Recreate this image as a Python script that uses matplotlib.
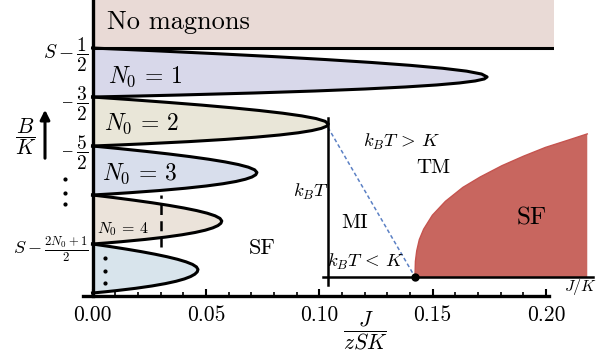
import numpy as np
import matplotlib.pyplot as plt
from matplotlib.patches import Rectangle, FancyArrowPatch

plt.rcParams['font.family'] = 'serif'
plt.rcParams['font.serif'] = ['cmr10']
plt.rcParams['mathtext.fontset'] = 'cm'
plt.rcParams['axes.formatter.use_mathtext'] = True

# Mott lobes, from the top band (N0 = 1) down
band_bottoms = [4, 3, 2, 1, 0]
lobe_tips = [0.174, 0.104, 0.0725, 0.057, 0.0465]      # J/(zSK) at the lobe tip
tip_heights = [0.41, 0.45, 0.46, 0.47, 0.48]           # tip position inside the band
lobe_colors = ['#d8d8ea', '#e9e6d8', '#d8deec', '#ebe3da', '#d8e4ec']
lobe_names = [r'$N_0\,=\,1$', r'$N_0\,=\,2$', r'$N_0\,=\,3$', r'$N_0\,=\,4$', '']

# lobe outline, as a fraction of the tip width
prof_low_u = [0, .05, .1, .2, .3, .4, .5, .6, .7, .8, .9, 1]
prof_low_x = [0, .116, .222, .409, .564, .691, .793, .872, .930, .970, .993, 1]
prof_up_v = [0, .1, .2, .3, .4, .5, .6, .7, .8, .9, .95, 1]
prof_up_x = [1, .986, .948, .887, .806, .707, .592, .463, .320, .166, .084, 0]

no_magnon_band = (5, 6)
x_right = 0.2035

ytick_pos = [5, 4, 3, 1]
ytick_lab = [r'$S-\dfrac{1}{2}$', r'$S-\dfrac{3}{2}$', r'$S-\dfrac{5}{2}$',
             r'$S-\frac{2N_0+1}{2}$']
xtick_pos = [0, 0.05, 0.10, 0.15, 0.20]
xtick_lab = ['0.00', '0.05', '0.10', '0.15', '0.20']

# finite temperature inset
sf_j = [1.0, 1.005, 1.02, 1.05, 1.1, 1.2, 1.35, 1.55, 1.75, 2.0, 2.25, 2.5, 2.75, 2.98]
sf_t = [0, 0.18, 0.30, 0.43, 0.55, 0.71, 0.87, 1.03, 1.15, 1.28, 1.39, 1.49, 1.57, 1.645]
crossover_j = [0, 1.0]
crossover_t = [1.72, 0]

fig = plt.figure(figsize=(6.11, 3.6), dpi=100)
ax = fig.add_axes([83/611, 64/360, 471/611, 296/360])
ax.set_xlim(-0.0042, x_right)
ax.set_ylim(-0.061, 5.98)

ax.fill_between([0, x_right], no_magnon_band[0], no_magnon_band[1], color='#e9dad6', lw=0)
ax.plot([0, x_right], [5, 5], color='k', lw=2.2, solid_capstyle='butt')
ax.text(0.0064, 5.53, 'No magnons', fontsize=19, va='center')

for b, jt, h, c in zip(band_bottoms, lobe_tips, tip_heights, lobe_colors):
    ys = [b + h*u for u in prof_low_u] + [b + h + (1 - h)*v for v in prof_up_v[1:]]
    xs = [jt*p for p in prof_low_x] + [jt*p for p in prof_up_x[1:]]
    ax.fill(xs, ys, facecolor=c, edgecolor='none')
    ax.plot(xs, ys, color='k', lw=2.2)

ax.text(0.0068, 4.286, lobe_names[0], fontsize=17)
ax.text(0.005, 3.327, lobe_names[1], fontsize=17)
ax.text(0.0042, 2.306, lobe_names[2], fontsize=17)
ax.text(0.002, 1.224, lobe_names[3], fontsize=11.5)
ax.text(0.0747, 0.918, 'SF', fontsize=16, ha='center', va='center')

ax.plot([0.0302, 0.0302], [0.94, 2.0], color='k', lw=1.8, dashes=(4, 2.5))
ax.plot([0.0055]*3, [0.714, 0.449, 0.204], 'k.', ms=4)
ax.plot([-0.0121]*3, [2.33, 2.05, 1.82], 'k.', ms=4, clip_on=False)

for s in ['top', 'right']:
    ax.spines[s].set_visible(False)
ax.spines['left'].set_position(('data', 0))
ax.spines['left'].set_linewidth(2.4)
ax.spines['bottom'].set_linewidth(2.4)
ax.spines['bottom'].set_bounds(-0.0042, 0.2015)
ax.set_xticks(xtick_pos)
ax.set_xticklabels(xtick_lab)
ax.set_xticks(np.arange(0, 0.201, 0.01), minor=True)
ax.tick_params(axis='x', which='major', direction='in', length=5, width=1.5, labelsize=15.5, pad=7)
ax.tick_params(axis='x', which='minor', direction='in', length=3, width=1.2)
ax.set_yticks(ytick_pos)
ax.set_yticklabels(ytick_lab)
ax.tick_params(axis='y', length=0, pad=3, labelsize=14)
ax.get_yticklabels()[-1].set_fontsize(13)

fig.text(365/611, 1 - 331/360, r'$\dfrac{J}{zSK}$', fontsize=15.5, ha='center', va='center')

# B/K label with the field arrow
fig.add_artist(Rectangle((8/611, 1 - 166/360), 55/611, 75/360, transform=fig.transFigure,
                         facecolor='white', edgecolor='none', zorder=5))
fig.text(26/611, 1 - 137/360, r'$\dfrac{B}{K}$', fontsize=15.5, ha='center', va='center', zorder=6)
fig.add_artist(FancyArrowPatch((45/611, 1 - 161/360), (45/611, 1 - 107/360),
                               transform=fig.transFigure, arrowstyle='-|>', mutation_scale=14,
                               lw=2.2, color='k', zorder=6))

# inset: temperature vs J/K
ins = fig.add_axes([323/611, 75/360, 270/611, 167/360])
ins.patch.set_visible(False)
ins.set_xlim(-0.057, 3.046)
ins.set_ylim(-0.092, 1.828)
for s in ['top', 'right']:
    ins.spines[s].set_visible(False)
ins.spines['left'].set_position(('data', 0))
ins.spines['bottom'].set_position(('data', 0))
ins.spines['left'].set_linewidth(1.8)
ins.spines['bottom'].set_linewidth(1.8)
ins.set_xticks([])
ins.set_yticks([])

ins.fill_between(sf_j, 0, sf_t, facecolor='#c8665f', edgecolor='none')
ins.plot(sf_j, sf_t, color='#c5544f', lw=1)
ins.plot(crossover_j, crossover_t, color='#5b80c4', lw=1.1, dashes=(2.5, 1.8))
ins.plot([1.0], [0], 'ko', ms=5, clip_on=False, zorder=5)

ins.text(0.85, 1.55, r'$k_BT\,>\,K$', fontsize=13.5, ha='center', va='center')
ins.text(1.207, 1.253, 'TM', fontsize=15, ha='center', va='center')
ins.text(-0.195, 0.977, r'$k_BT$', fontsize=13.5, ha='center', va='center')
ins.text(0.31, 0.62, 'MI', fontsize=15, ha='center', va='center')
ins.text(0.437, 0.172, r'$k_BT\,<\,K$', fontsize=13.5, ha='center', va='center')
ins.text(2.345, 0.678, 'SF', fontsize=18, ha='center', va='center')
ins.text(2.908, -0.115, r'$J/K$', fontsize=11.5, ha='center', va='center')

fig.savefig('out.png', dpi=100)
